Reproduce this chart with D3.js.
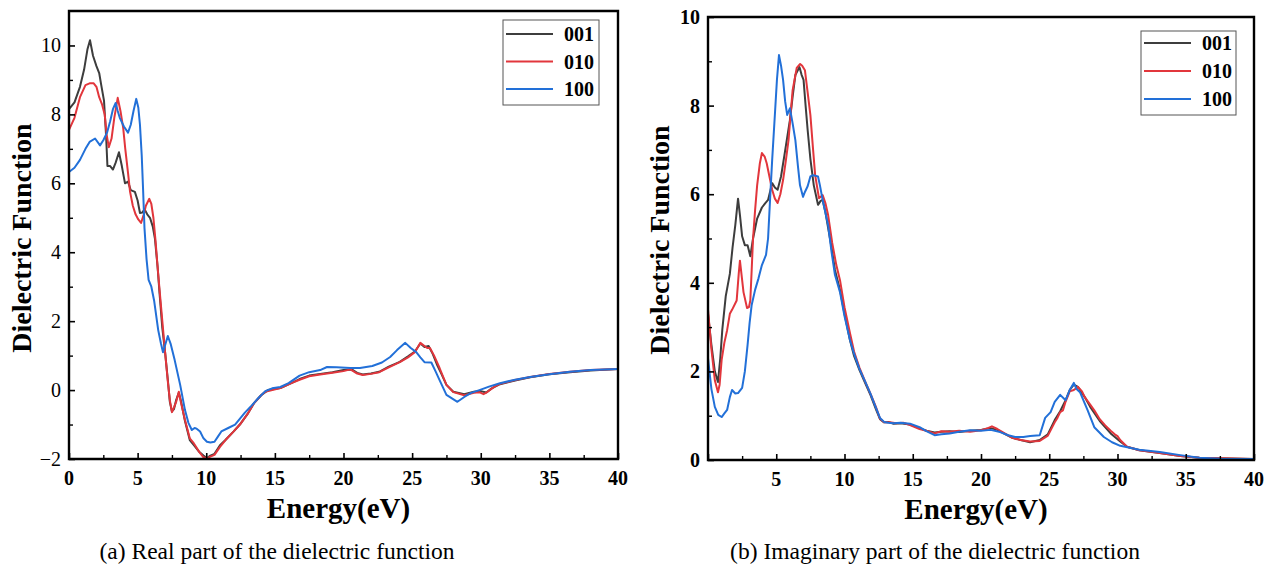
<!DOCTYPE html>
<html><head><meta charset="utf-8">
<script src="https://cdn.jsdelivr.net/npm/d3@7"></script>
<style>body{margin:0;background:#fff}svg{display:block}text{font-family:"Liberation Serif","Times New Roman",serif}</style>
</head><body>
<svg id="c" width="1274" height="566"></svg>
<script>
const seriesNames = ["001", "010", "100"];
const seriesColors = ["#3d3d3d", "#e2363c", "#2270d8"];
const xTicks = [0, 5, 10, 15, 20, 25, 30, 35, 40];
const realYTicks = [-2, 0, 2, 4, 6, 8, 10];
const imagYTicks = [0, 2, 4, 6, 8, 10];

const real001 = [[0,8.15],[0.4,8.35],[0.8,8.8],[1.1,9.3],[1.35,9.9],[1.53,10.15],[1.75,9.7],[2.0,9.4],[2.2,9.2],[2.35,8.85],[2.55,8.4],[2.7,7.4],[2.8,6.5],[3.0,6.5],[3.2,6.4],[3.4,6.6],[3.64,6.9],[3.85,6.5],[4.08,6.0],[4.3,6.05],[4.5,5.8],[4.8,5.75],[5.0,5.5],[5.17,5.14],[5.35,5.15],[5.5,5.25],[5.7,5.1],[5.9,5.0],[6.1,4.75],[6.26,4.4],[6.45,3.6],[6.6,2.8],[6.8,1.8],[7.0,1.1],[7.2,0.3],[7.35,-0.35],[7.5,-0.62],[7.65,-0.55],[7.8,-0.3],[8.0,-0.08],[8.15,-0.3],[8.45,-0.9],[8.8,-1.45],[9.1,-1.6],[9.5,-1.8],[9.8,-1.9],[10.05,-1.97],[10.3,-1.9],[10.6,-1.85],[11.0,-1.6],[11.4,-1.45],[12.0,-1.2],[12.45,-1.0],[13.0,-0.7],[13.5,-0.37],[14.0,-0.15],[14.5,0.0],[15.4,0.06],[16.2,0.2],[16.8,0.32],[17.5,0.42],[18.3,0.47],[19.2,0.52],[20.0,0.58],[20.6,0.6],[21.0,0.5],[21.4,0.45],[22.0,0.48],[22.6,0.53],[23.3,0.68],[24.1,0.82],[24.7,0.98],[25.2,1.12],[25.6,1.35],[25.9,1.25],[26.2,1.28],[26.5,1.05],[26.8,0.75],[27.1,0.5],[27.5,0.15],[28.0,-0.05],[28.8,-0.12],[29.5,-0.05],[30.0,-0.03],[30.4,-0.07],[30.8,0.05],[31.4,0.17],[32.5,0.28],[33.6,0.37],[35.0,0.46],[36.5,0.52],[38.0,0.57],[40,0.61]];
const real010 = [[0,7.55],[0.4,7.9],[0.8,8.5],[1.2,8.85],[1.5,8.9],[1.8,8.9],[2.0,8.8],[2.2,8.5],[2.4,8.3],[2.6,8.0],[2.75,7.4],[2.9,7.05],[3.1,7.3],[3.3,7.9],[3.55,8.48],[3.75,8.1],[3.95,7.6],[4.1,7.0],[4.3,6.3],[4.45,5.75],[4.65,5.35],[4.85,5.1],[5.05,4.95],[5.25,4.85],[5.45,5.1],[5.6,5.35],[5.85,5.55],[6.0,5.4],[6.15,5.0],[6.3,4.35],[6.45,3.6],[6.6,2.9],[6.8,2.0],[7.0,1.1],[7.2,0.25],[7.35,-0.3],[7.5,-0.64],[7.65,-0.5],[7.8,-0.35],[8.0,-0.05],[8.15,-0.35],[8.45,-0.87],[8.8,-1.4],[9.1,-1.55],[9.5,-1.8],[9.8,-1.95],[10.05,-1.98],[10.3,-1.93],[10.6,-1.88],[11.0,-1.65],[11.4,-1.45],[12.0,-1.2],[12.45,-1.0],[13.0,-0.7],[13.5,-0.37],[14.0,-0.15],[14.3,-0.05],[15.4,0.06],[16.2,0.2],[16.8,0.3],[17.5,0.4],[18.3,0.45],[19.2,0.5],[20.0,0.55],[20.5,0.6],[21.0,0.48],[21.4,0.44],[22.0,0.47],[22.6,0.52],[23.3,0.66],[24.1,0.81],[24.7,0.95],[25.2,1.1],[25.6,1.37],[25.9,1.28],[26.1,1.22],[26.3,1.22],[26.6,1.0],[27.0,0.64],[27.5,0.15],[28.0,-0.06],[28.8,-0.15],[29.5,-0.08],[29.9,-0.06],[30.2,-0.12],[30.5,-0.05],[31.0,0.1],[31.4,0.18],[32.5,0.29],[33.6,0.38],[35.0,0.47],[36.5,0.53],[38.0,0.58],[40,0.61]];
const real100 = [[0,6.33],[0.4,6.45],[0.8,6.68],[1.2,7.0],[1.5,7.2],[1.9,7.3],[2.26,7.1],[2.5,7.25],[2.77,7.47],[3.0,7.8],[3.2,8.15],[3.4,8.33],[3.55,8.1],[3.7,7.9],[4.0,7.65],[4.3,7.47],[4.5,7.7],[4.7,8.1],[4.9,8.45],[5.05,8.2],[5.17,7.7],[5.3,6.8],[5.4,5.8],[5.5,4.7],[5.65,3.8],[5.8,3.2],[6.0,3.0],[6.2,2.6],[6.5,1.74],[6.7,1.35],[6.85,1.1],[7.0,1.3],[7.2,1.57],[7.4,1.35],[7.7,0.87],[8.1,0.15],[8.45,-0.58],[8.7,-0.95],[8.95,-1.16],[9.15,-1.1],[9.3,-1.12],[9.55,-1.2],[9.8,-1.4],[10.05,-1.5],[10.3,-1.52],[10.6,-1.5],[10.85,-1.35],[11.1,-1.2],[11.6,-1.1],[12.1,-1.0],[12.8,-0.66],[13.3,-0.45],[13.8,-0.23],[14.3,-0.03],[14.8,0.05],[15.4,0.09],[16.0,0.2],[16.8,0.42],[17.5,0.52],[18.3,0.58],[18.8,0.67],[19.5,0.66],[20.5,0.64],[21.2,0.64],[22.1,0.7],[22.8,0.8],[23.4,0.96],[23.9,1.16],[24.5,1.37],[24.9,1.22],[25.3,1.1],[25.6,0.95],[25.9,0.81],[26.4,0.8],[26.7,0.55],[27.0,0.29],[27.5,-0.14],[28.1,-0.29],[28.3,-0.34],[28.8,-0.2],[29.3,-0.08],[29.9,0.0],[30.6,0.1],[31.4,0.2],[32.5,0.3],[33.6,0.38],[35.0,0.46],[36.5,0.53],[38.0,0.58],[40,0.61]];

const imag001 = [[0,3.3],[0.25,2.6],[0.5,2.0],[0.73,1.76],[0.9,2.3],[1.05,2.95],[1.3,3.7],[1.6,4.2],[1.8,4.8],[2.0,5.3],[2.2,5.9],[2.35,5.5],[2.5,5.05],[2.7,4.85],[2.9,4.85],[3.1,4.6],[3.3,5.0],[3.6,5.45],[3.95,5.7],[4.2,5.8],[4.4,5.87],[4.7,6.25],[4.9,6.15],[5.1,6.1],[5.35,6.4],[5.6,6.88],[6.0,7.67],[6.2,8.2],[6.4,8.69],[6.7,8.87],[6.85,8.7],[7.0,8.58],[7.15,8.0],[7.3,7.45],[7.5,6.8],[7.75,6.2],[8.06,5.76],[8.25,5.85],[8.4,5.87],[8.6,5.6],[8.8,5.24],[9.05,4.8],[9.3,4.29],[9.67,3.84],[10.0,3.3],[10.4,2.71],[10.7,2.35],[11.1,2.03],[11.5,1.75],[11.9,1.47],[12.3,1.15],[12.6,0.92],[12.9,0.85],[13.2,0.86],[13.6,0.82],[14.1,0.83],[14.8,0.8],[15.5,0.72],[16.0,0.66],[16.6,0.62],[17.1,0.64],[17.7,0.65],[18.4,0.63],[19.2,0.66],[20.0,0.68],[20.7,0.72],[21.2,0.68],[21.8,0.58],[22.3,0.5],[22.9,0.45],[23.6,0.4],[24.3,0.45],[24.9,0.58],[25.4,0.9],[25.8,1.1],[26.2,1.35],[26.5,1.58],[26.8,1.7],[27.1,1.65],[27.6,1.42],[28.0,1.2],[28.7,0.88],[29.5,0.6],[30.2,0.42],[30.7,0.3],[31.6,0.22],[33.1,0.16],[34.6,0.09],[36.0,0.05],[37.5,0.04],[40,0.02]];
const imag010 = [[0,3.4],[0.25,2.5],[0.5,1.8],[0.73,1.53],[0.85,1.7],[1.0,2.26],[1.2,2.65],[1.4,2.93],[1.6,3.3],[1.76,3.39],[2.1,3.6],[2.25,4.2],[2.34,4.5],[2.45,4.2],[2.6,3.79],[2.86,3.43],[3.0,3.45],[3.1,3.6],[3.2,4.29],[3.3,5.0],[3.45,5.64],[3.6,6.2],[3.8,6.7],[3.95,6.93],[4.15,6.85],[4.3,6.7],[4.5,6.4],[4.7,6.1],[4.9,5.9],[5.1,5.8],[5.3,6.0],[5.5,6.32],[5.7,6.75],[5.9,7.22],[6.05,7.8],[6.2,8.35],[6.5,8.85],[6.75,8.94],[6.9,8.9],[7.1,8.8],[7.3,8.3],[7.5,7.79],[7.7,7.0],[7.85,6.43],[8.13,5.91],[8.4,5.98],[8.6,5.8],[8.8,5.53],[9.1,4.9],[9.4,4.4],[9.67,4.06],[10.0,3.45],[10.4,2.87],[10.7,2.45],[11.1,2.08],[11.5,1.78],[11.9,1.5],[12.3,1.2],[12.6,0.93],[12.9,0.85],[13.3,0.85],[13.8,0.83],[14.3,0.84],[14.8,0.79],[15.5,0.7],[16.0,0.66],[16.6,0.6],[17.1,0.65],[17.7,0.64],[18.4,0.66],[19.2,0.64],[20.0,0.67],[20.5,0.72],[20.8,0.76],[21.2,0.7],[21.8,0.59],[22.3,0.5],[22.9,0.45],[23.6,0.42],[24.3,0.43],[24.9,0.55],[25.4,0.85],[25.6,0.95],[25.8,1.08],[26.0,1.12],[26.2,1.32],[26.5,1.55],[26.8,1.58],[27.1,1.65],[27.4,1.55],[27.6,1.42],[28.0,1.25],[28.3,1.12],[28.7,0.92],[29.1,0.78],[29.5,0.66],[29.8,0.58],[30.0,0.54],[30.2,0.45],[30.7,0.3],[31.6,0.22],[33.1,0.16],[34.6,0.09],[36.0,0.05],[37.5,0.04],[40,0.02]];
const imag100 = [[0,2.3],[0.25,1.6],[0.5,1.2],[0.75,1.02],[1.0,0.97],[1.2,1.05],[1.4,1.13],[1.6,1.42],[1.76,1.58],[2.0,1.5],[2.2,1.51],[2.5,1.63],[2.7,2.0],[2.9,2.6],[3.05,3.1],[3.2,3.5],[3.45,3.84],[3.7,4.1],[3.95,4.4],[4.25,4.63],[4.4,5.0],[4.55,5.9],[4.7,6.77],[4.9,7.8],[5.05,8.58],[5.2,9.14],[5.35,8.9],[5.5,8.58],[5.65,8.1],[5.8,7.79],[6.0,7.94],[6.2,7.6],[6.4,7.22],[6.6,6.6],[6.74,6.2],[6.96,5.94],[7.1,6.05],[7.3,6.18],[7.5,6.4],[7.7,6.43],[8.06,6.4],[8.2,6.2],[8.4,5.87],[8.8,5.3],[9.05,4.7],[9.3,4.18],[9.67,3.79],[10.0,3.25],[10.4,2.71],[10.7,2.4],[11.1,2.05],[11.5,1.78],[11.9,1.5],[12.3,1.18],[12.6,0.95],[12.9,0.86],[13.2,0.84],[13.6,0.83],[14.1,0.84],[14.8,0.82],[15.5,0.74],[16.0,0.65],[16.6,0.56],[17.1,0.58],[17.7,0.6],[18.4,0.64],[19.2,0.67],[20.0,0.66],[20.7,0.68],[21.4,0.63],[22.0,0.56],[22.5,0.52],[23.1,0.52],[23.6,0.54],[24.3,0.56],[24.7,0.95],[25.1,1.08],[25.4,1.31],[25.8,1.47],[26.2,1.35],[26.5,1.58],[26.8,1.74],[27.0,1.6],[27.25,1.53],[27.8,1.13],[28.3,0.74],[29.0,0.52],[29.6,0.4],[30.2,0.32],[31.6,0.23],[33.1,0.18],[34.6,0.11],[36.0,0.05],[37.5,0.03],[40,0.02]];

const svg = d3.select("#c");

function panel(cfg) {
  const x = d3.scaleLinear().domain([0, 40]).range([cfg.left, cfg.right]);
  const y = d3.scaleLinear().domain(cfg.yDomain).range([cfg.bottom, cfg.top]);
  const g = svg.append("g");

  const line = d3.line().x(d => x(d[0])).y(d => y(d[1]));
  cfg.series.forEach((s, i) => {
    g.append("path").datum(s).attr("d", line)
      .attr("fill", "none").attr("stroke", seriesColors[i])
      .attr("stroke-width", 2).attr("stroke-linejoin", "round");
  });

  const xAxis = d3.axisTop(x).tickValues(cfg.xTickValues).tickSize(6).tickFormat("");
  g.append("g").attr("transform", `translate(0,${cfg.bottom})`).call(xAxis)
    .call(a => a.select(".domain").remove())
    .selectAll("line").attr("stroke", "#000").attr("stroke-width", 1.6);
  const xMinor = d3.axisTop(x).tickValues(d3.range(2.5, 40, 5)).tickSize(4).tickFormat("");
  g.append("g").attr("transform", `translate(0,${cfg.bottom})`).call(xMinor)
    .call(a => a.select(".domain").remove())
    .selectAll("line").attr("stroke", "#000").attr("stroke-width", 1.4);
  g.selectAll(".xl").data(cfg.xLabels).enter().append("text")
    .attr("x", d => x(d)).attr("y", cfg.bottom + 26)
    .attr("text-anchor", "middle").attr("font-size", 20).attr("font-weight", "bold")
    .text(d => d);

  const yAxis = d3.axisRight(y).tickValues(cfg.yTickValues).tickSize(6).tickFormat("");
  g.append("g").attr("transform", `translate(${cfg.left},0)`).call(yAxis)
    .call(a => a.select(".domain").remove())
    .selectAll("line").attr("stroke", "#000").attr("stroke-width", 1.6);
  const yMinor = d3.axisRight(y).tickValues(cfg.yMinor).tickSize(4).tickFormat("");
  g.append("g").attr("transform", `translate(${cfg.left},0)`).call(yMinor)
    .call(a => a.select(".domain").remove())
    .selectAll("line").attr("stroke", "#000").attr("stroke-width", 1.4);
  g.selectAll(".yl").data(cfg.yTickValues).enter().append("text")
    .attr("x", cfg.left - 8).attr("y", d => y(d)).attr("dy", "0.35em")
    .attr("text-anchor", "end").attr("font-size", cfg.yLabelSize)
    .attr("font-weight", cfg.yLabelWeight)
    .text(d => d < 0 ? "\u2212" + Math.abs(d) : d);

  g.append("path")
    .attr("d", `M${cfg.left},${cfg.top}H${cfg.right}V${cfg.bottom}H${cfg.left}Z`)
    .attr("fill", "none").attr("stroke", "#000").attr("stroke-width", 2.4);

  g.append("text").attr("x", (cfg.left + cfg.right) / 2 - 5).attr("y", cfg.bottom + 59)
    .attr("text-anchor", "middle").attr("font-size", 29).attr("font-weight", "bold")
    .text("Energy(eV)");
  g.append("text")
    .attr("transform", `translate(${cfg.yTitleX},${cfg.yTitleY}) rotate(-90)`)
    .attr("text-anchor", "middle").attr("font-size", 28).attr("font-weight", "bold")
    .text("Dielectric Function");

  const L = cfg.legend;
  g.append("rect").attr("x", L.x).attr("y", L.y).attr("width", L.w).attr("height", L.h)
    .attr("fill", "#fff").attr("stroke", "#555").attr("stroke-width", 1);
  seriesNames.forEach((n, i) => {
    const yy = L.y + L.first + i * L.step;
    g.append("line").attr("x1", L.x + 3).attr("x2", L.x + 50).attr("y1", yy).attr("y2", yy)
      .attr("stroke", seriesColors[i]).attr("stroke-width", 2.2);
    g.append("text").attr("x", L.x + 61).attr("y", yy).attr("dy", "0.35em")
      .attr("font-size", 20).attr("font-weight", "bold").text(n);
  });

  svg.append("text").attr("x", cfg.capX).attr("y", 559).attr("text-anchor", "middle")
    .attr("font-size", 23.5).text(cfg.caption);
}

panel({
  left: 69, right: 618, top: 11, bottom: 459, yDomain: [-2, 11],
  series: [real001, real010, real100],
  xTickValues: xTicks, xLabels: xTicks,
  yTickValues: realYTicks, yMinor: [-1, 1, 3, 5, 7, 9],
  yLabelSize: 20, yLabelWeight: "normal",
  yTitleX: 31, yTitleY: 238,
  legend: {x: 503, y: 20, w: 96, h: 85, first: 14, step: 27.5},
  capX: 277, caption: "(a) Real part of the dielectric function"
});
panel({
  left: 708, right: 1254, top: 17, bottom: 460, yDomain: [0, 10],
  series: [imag001, imag010, imag100],
  xTickValues: xTicks, xLabels: xTicks.slice(1),
  yTickValues: imagYTicks, yMinor: [1, 3, 5, 7, 9],
  yLabelSize: 20, yLabelWeight: "bold",
  yTitleX: 669, yTitleY: 240,
  legend: {x: 1141, y: 31, w: 95, h: 84, first: 12, step: 28},
  capX: 935, caption: "(b) Imaginary part of the dielectric function"
});
</script>
</body></html>
